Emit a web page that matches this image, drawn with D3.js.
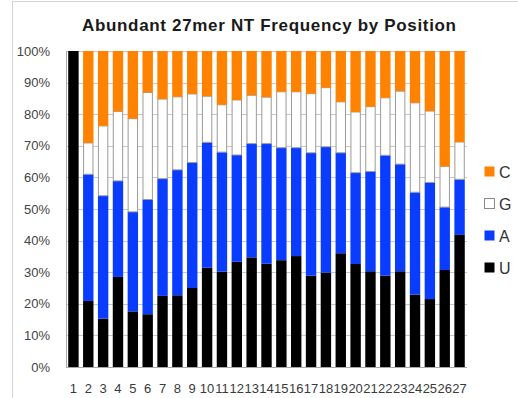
<!DOCTYPE html>
<html>
<head>
<meta charset="utf-8">
<script src="https://cdn.jsdelivr.net/npm/d3@7"></script>
<style>
  html, body { margin: 0; padding: 0; background: #fff; }
  svg { display: block; }
  text { font-family: "Liberation Sans", Arial, sans-serif; }
</style>
</head>
<body>
<svg id="chart" width="518" height="398"></svg>
<script>
// Nucleotide frequency (%) at each position of the abundant 27mers
const positions = d3.range(1, 28).map(String);
const seriesNames = ["U", "A", "G", "C"];
const U = [100, 20.9, 15.3, 28.5, 17.6, 16.7, 22.5, 22.7, 25.0, 31.4, 30.2, 33.3, 34.7, 32.7,
           33.8, 35.1, 28.9, 29.9, 36.0, 32.6, 30.3, 28.9, 30.3, 22.9, 21.5, 30.7, 41.8];
const A = [0, 40.1, 38.9, 30.4, 31.5, 36.3, 37.1, 39.7, 39.7, 39.7, 37.8, 33.8, 36.0, 38.0,
           35.6, 34.3, 38.9, 39.8, 31.8, 28.9, 31.6, 38.1, 33.9, 32.4, 36.9, 19.9, 17.6];
const G = [0, 9.9, 22.1, 22.0, 29.5, 33.9, 25.2, 23.1, 21.7, 14.6, 15.0, 17.4, 15.3, 14.7,
           17.7, 17.7, 18.7, 18.7, 16.1, 19.2, 20.5, 18.2, 23.1, 28.3, 22.6, 12.9, 11.8];
const C = [0, 29.1, 23.7, 19.1, 21.4, 13.1, 15.2, 14.5, 13.6, 14.3, 17.0, 15.5, 14.0, 14.6,
           12.9, 12.9, 13.5, 11.6, 16.1, 19.3, 17.6, 14.8, 12.7, 16.4, 19.0, 36.5, 28.8];
const yTicks = [0, 10, 20, 30, 40, 50, 60, 70, 80, 90, 100];
const titleText = "Abundant 27mer NT Frequency by Position";

const colors = { U: "#000000", A: "#0a3cff", G: "#ffffff", C: "#ff8200" };
const legendOrder = ["C", "G", "A", "U"];

const rows = positions.map((p, i) => ({ pos: p, U: U[i], A: A[i], G: G[i], C: C[i] }));

const svg = d3.select("#chart");
const plot = { left: 66, right: 467, top: 51, bottom: 367 };

// outer chart frame
svg.append("rect")
  .attr("x", 12.5).attr("y", 1.5)
  .attr("width", 540).attr("height", 420)
  .attr("fill", "none").attr("stroke", "#d4d4d4").attr("stroke-width", 1);

const x = d3.scaleBand().domain(positions)
  .range([plot.left, plot.right]).paddingInner(0.3).paddingOuter(0.15);
const y = d3.scaleLinear().domain([0, 100]).range([plot.bottom, plot.top]);

// horizontal gridlines
svg.append("g").selectAll("line").data(yTicks).join("line")
  .attr("x1", plot.left).attr("x2", plot.right)
  .attr("y1", d => Math.round(y(d)) + 0.5).attr("y2", d => Math.round(y(d)) + 0.5)
  .attr("stroke", d => d === 0 ? "#a8a8a8" : "#c8c8c8").attr("stroke-width", 1);

// y axis line
svg.append("line")
  .attr("x1", plot.left + 0.5).attr("x2", plot.left + 0.5)
  .attr("y1", y(100)).attr("y2", y(0))
  .attr("stroke", "#a8a8a8");

// y tick labels
svg.append("g").selectAll("text").data(yTicks).join("text")
  .attr("x", 50).attr("y", d => y(d)).attr("dy", "0.36em")
  .attr("text-anchor", "end").attr("font-size", 13).attr("fill", "#444")
  .text(d => d + "%");

// stacked bars
const stack = d3.stack().keys(seriesNames);
const layers = stack(rows);
svg.append("g").selectAll("g").data(layers).join("g")
  .attr("fill", d => colors[d.key])
  .attr("stroke", d => d.key === "G" ? "#9a9a9a" : "none")
  .each(function (layer) {
    d3.select(this).selectAll("rect").data(layer.filter(s => s[1] - s[0] > 0)).join("rect")
      .attr("x", s => x(s.data.pos) + (layer.key === "G" ? 0.5 : 0))
      .attr("width", x.bandwidth() - (layer.key === "G" ? 1 : 0))
      .attr("y", s => y(s[1]))
      .attr("height", s => y(s[0]) - y(s[1]));
  });

// x tick labels
svg.append("g").selectAll("text").data(positions).join("text")
  .attr("x", d => x(d) + x.bandwidth() / 2).attr("y", 393)
  .attr("text-anchor", "middle").attr("font-size", 13).attr("fill", "#3a3a3a")
  .text(d => d);

// title
svg.append("text")
  .attr("x", 269).attr("y", 31)
  .attr("text-anchor", "middle").attr("font-size", 17).attr("font-weight", "bold")
  .attr("textLength", 374).attr("lengthAdjust", "spacing")
  .attr("fill", "#1a1a1a")
  .text(titleText);

// legend
const legend = svg.append("g").selectAll("g").data(legendOrder).join("g")
  .attr("transform", (d, i) => `translate(484, ${172 + i * 32})`);
legend.append("rect")
  .attr("x", 0.5).attr("y", -5.5).attr("width", 10).attr("height", 10)
  .attr("fill", d => colors[d])
  .attr("stroke", d => d === "G" ? "#8a8a8a" : "none");
legend.append("text")
  .attr("x", 15).attr("y", 0).attr("dy", "0.36em")
  .attr("font-size", 16).attr("fill", "#333")
  .text(d => d);
</script>
</body>
</html>
